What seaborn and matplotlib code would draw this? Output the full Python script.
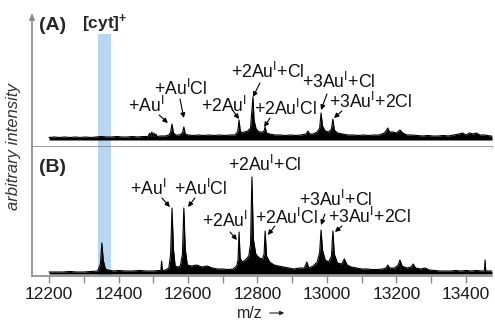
import matplotlib
matplotlib.use("Agg")
import matplotlib.pyplot as plt
import seaborn as sns

# spectrum (A): m/z and arbitrary intensity
mz_a = [12200, 12215, 12230, 12245, 12260, 12275, 12290, 12305, 12320, 12335,
        12350, 12365, 12380, 12395, 12410, 12425, 12440, 12455, 12470, 12485,
        12490, 12493, 12496, 12499, 12502, 12505, 12508, 12511, 12520, 12535,
        12545, 12550, 12554, 12558, 12565, 12575, 12584, 12588, 12592, 12600,
        12615, 12630, 12645, 12660, 12675, 12690, 12705, 12720, 12735, 12743,
        12747, 12750, 12754, 12762, 12772, 12780, 12784, 12787, 12790, 12796,
        12805, 12815, 12819, 12822, 12826, 12835, 12850, 12865, 12880, 12895,
        12910, 12925, 12940, 12945, 12950, 12960, 12972, 12979, 12983, 12987,
        12995, 13005, 13013, 13017, 13021, 13030, 13045, 13060, 13075, 13090,
        13105, 13120, 13135, 13150, 13165, 13170, 13175, 13180, 13190, 13200,
        13210, 13218, 13230, 13245, 13260, 13275, 13290, 13305, 13320, 13335,
        13350, 13365, 13380, 13390, 13400, 13410, 13420, 13430, 13440, 13455,
        13470, 13475]
int_a = [2.5, 3, 2.5, 3, 2.5, 3, 2.5, 3, 2.5, 3,
         3.5, 3, 3, 3.5, 3, 3, 3.5, 3, 3.5, 3.5,
         7, 3.5, 8, 3.5, 7, 3.5, 6, 3.5, 4, 4,
         5, 8, 16, 7, 5, 5, 7, 13, 6, 5,
         4.5, 5, 4.5, 5, 4.5, 5, 4.5, 5, 5, 8,
         20, 10, 7, 8, 9, 12, 30, 43, 20, 11,
         8, 8, 9, 13, 7, 6, 5, 5, 4.5, 5,
         4.5, 5, 6, 9, 6, 6, 8, 12, 27, 14,
         9, 8, 11, 21, 10, 7, 6, 5, 5, 4.5,
         5, 4.5, 5, 5, 7, 9, 12, 8, 8, 7,
         10, 7, 5, 5, 4.5, 4, 4.5, 4, 4, 4.5,
         4, 5, 6, 7, 5, 7, 6, 7, 5, 5,
         4, 4]

# spectrum (B)
mz_b = [12200, 12220, 12240, 12260, 12280, 12300, 12320, 12340, 12348, 12352,
        12356, 12362, 12370, 12385, 12400, 12420, 12440, 12460, 12480, 12500,
        12515, 12522, 12524, 12526, 12535, 12545, 12550, 12554, 12558, 12563,
        12570, 12578, 12584, 12588, 12592, 12598, 12610, 12625, 12640, 12655,
        12670, 12685, 12700, 12715, 12730, 12740, 12744, 12747, 12750, 12756,
        12765, 12775, 12780, 12784, 12788, 12795, 12805, 12815, 12819, 12822,
        12826, 12835, 12848, 12860, 12875, 12890, 12905, 12920, 12935, 12942,
        12948, 12960, 12972, 12979, 12983, 12987, 12995, 13005, 13013, 13017,
        13021, 13030, 13042, 13050, 13058, 13070, 13085, 13100, 13115, 13130,
        13145, 13160, 13170, 13175, 13180, 13195, 13205, 13210, 13216, 13230,
        13242, 13248, 13255, 13270, 13282, 13295, 13310, 13325, 13340, 13355,
        13370, 13385, 13400, 13415, 13430, 13445, 13453, 13455, 13457, 13465,
        13475]
int_b = [2, 2, 2, 2.5, 2, 2, 2.5, 3, 10, 31,
         14, 5, 4, 3, 3.5, 3, 3, 3.5, 3, 3,
         3.5, 3.5, 13, 3.5, 4, 6, 20, 66, 25, 8,
         7, 8, 20, 66, 25, 9, 8, 9, 7, 8,
         6, 5, 5, 4.5, 5, 8, 14, 42, 16, 12,
         14, 18, 30, 97, 35, 20, 16, 15, 20, 43,
         18, 12, 9, 8, 7, 6, 5, 6, 6, 12,
         6, 8, 12, 22, 44, 24, 14, 12, 18, 43,
         20, 11, 10, 15, 9, 7, 6, 5, 5, 4.5,
         4.5, 5, 6, 9, 6, 6, 9, 14, 8, 6,
         7, 10, 6, 5, 6, 4, 3.5, 3, 3, 3,
         3.5, 3, 3.5, 3, 3.5, 3, 3, 14, 3, 3,
         3]

cyt_band = (12341, 12378)
xticks = [12200, 12400, 12600, 12800, 13000, 13200, 13400]

labels_a = [r"+Au$^{\mathrm{I}}$", r"+Au$^{\mathrm{I}}$Cl", r"+2Au$^{\mathrm{I}}$",
            r"+2Au$^{\mathrm{I}}$+Cl", r"+2Au$^{\mathrm{I}}$Cl",
            r"+3Au$^{\mathrm{I}}$+Cl", r"+3Au$^{\mathrm{I}}$+2Cl"]
labels_b = [r"+Au$^{\mathrm{I}}$", r"+Au$^{\mathrm{I}}$Cl", r"+2Au$^{\mathrm{I}}$",
            r"+2Au$^{\mathrm{I}}$+Cl", r"+2Au$^{\mathrm{I}}$Cl",
            r"+3Au$^{\mathrm{I}}$+Cl", r"+3Au$^{\mathrm{I}}$+2Cl"]

# label placement: (text x, text y, arrow start x, y, arrow tip x, y)
place_a = [(12479, 34, 12517, 25, 12542, 17),
           (12580, 51, 12577, 41, 12588, 22),
           (12704, 34, 12730, 29, 12747, 21),
           (12830, 68, 12807, 57, 12787, 43),
           (12882, 31, 12836, 22, 12819, 13),
           (13035, 58, 13000, 46, 12983, 30),
           (13127, 38, 13043, 29, 13020, 22)]
place_b = [(12485, 85, 12525, 76, 12548, 67),
           (12637, 85, 12620, 76, 12600, 67),
           (12706, 53, 12721, 42, 12741, 34),
           (12822, 109, None, None, None, None),
           (12885, 56, 12850, 48, 12830, 39),
           (13026, 74, 12994, 60, 12983, 49),
           (13124, 57, 13043, 48, 13023, 42)]

sns.set_style("white")
plt.rcParams["font.family"] = ["Liberation Sans", "DejaVu Sans"]
plt.rcParams["mathtext.fontset"] = "custom"
plt.rcParams["mathtext.rm"] = "Liberation Sans"
plt.rcParams["mathtext.bf"] = "Liberation Sans:bold"
plt.rcParams["mathtext.it"] = "Liberation Sans:italic"

W, H = 495, 320
fig = plt.figure(figsize=(W / 100, H / 100), dpi=100)
left, right = 32 / W, 492 / W
ax_a = fig.add_axes([left, 1 - 147 / H, right - left, 132 / H])
ax_b = fig.add_axes([left, 1 - 276 / H, right - left, 129 / H])

grey = "#8a8a8a"
for ax in (ax_a, ax_b):
    ax.set_xlim(12151, 13475)
    for s in ("top", "right"):
        ax.spines[s].set_visible(False)
    for s in ("left", "bottom"):
        ax.spines[s].set_color(grey)
        ax.spines[s].set_linewidth(1.2)
    ax.set_yticks([])

ax_a.set_ylim(-7, 125)
ax_b.set_ylim(-2, 127)

# blue [cyt]+ band
ax_a.axvspan(*cyt_band, ymin=0, ymax=(147 - 34) / 132, color="#b9d6f0", lw=0, zorder=0)
ax_b.axvspan(*cyt_band, color="#b9d6f0", lw=0, zorder=0)

for ax, mz, inten in ((ax_a, mz_a, int_a), (ax_b, mz_b, int_b)):
    ax.fill_between(mz, 0, inten, color="black", lw=0, zorder=2)
    sns.lineplot(x=mz, y=inten, ax=ax, color="black", lw=0.8, zorder=3)
    ax.set_ylabel("")
    ax.set_xlabel("")

ax_a.set_xticks([])
ax_a.tick_params(axis="x", length=0)
ax_b.set_xticks(list(range(12200, 13500, 100)))
ax_b.set_xticklabels([str(t) if t in xticks else "" for t in range(12200, 13500, 100)])
ax_b.tick_params(axis="x", direction="out", length=5, width=1, color=grey,
                 labelsize=12.5, labelcolor="#1a1a1a", pad=3, bottom=True)


def add_labels(ax, labels, places):
    for lab, (tx, ty, ax0, ay0, ax1, ay1) in zip(labels, places):
        ax.text(tx, ty, lab, ha="center", va="center", fontsize=12.7, color="#111111", zorder=5)
        if ax0 is not None:
            ax.annotate("", xy=(ax1, ay1), xytext=(ax0, ay0),
                        arrowprops=dict(arrowstyle="-|>", lw=0.8, color="black",
                                        mutation_scale=7, shrinkA=0, shrinkB=0))


add_labels(ax_a, labels_a, place_a)
add_labels(ax_b, labels_b, place_b)

fig.text(53 / W, 1 - 26 / H, "(A)", ha="center", va="center", fontsize=14, fontweight="bold")
fig.text(53 / W, 1 - 167 / H, "(B)", ha="center", va="center", fontsize=14, fontweight="bold")
fig.text(105 / W, 1 - 24 / H, r"[cyt]$^{\mathbf{+}}$", ha="center", va="center",
         fontsize=12.5, fontweight="bold")
fig.text(14 / W, 1 - 147 / H, "arbitrary intensity", rotation=90, ha="center", va="center",
         fontsize=12, style="italic", color="#333333")

# y-axis arrow head
fig.add_artist(matplotlib.patches.FancyArrowPatch(
    (32 / W, 1 - 22 / H), (32 / W, 1 - 11 / H), transform=fig.transFigure,
    arrowstyle="-|>", mutation_scale=8, color=grey, lw=1.2))

# m/z label with arrow
fig.text(263 / W, 1 - 313 / H, "m/z", ha="right", va="center", fontsize=11.5, color="#222222")
fig.add_artist(matplotlib.patches.FancyArrowPatch(
    (267 / W, 1 - 313 / H), (287 / W, 1 - 313 / H), transform=fig.transFigure,
    arrowstyle="-|>", mutation_scale=6, color="#222222", lw=0.8))

fig.savefig("out.png", dpi=100)
plt.close(fig)
